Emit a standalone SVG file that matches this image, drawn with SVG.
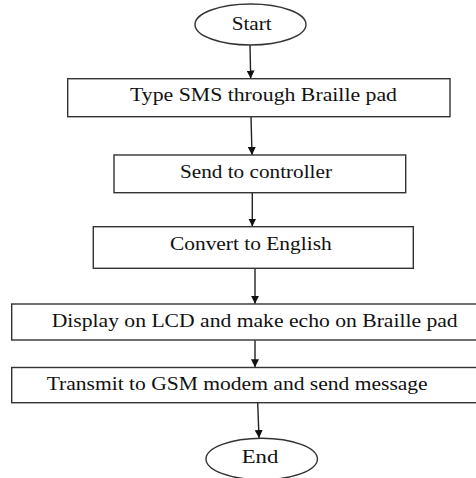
<svg xmlns="http://www.w3.org/2000/svg" width="476" height="478" viewBox="0 0 476 478">
<defs>
<style>
.n{fill:#fff;stroke:#333;stroke-width:1.4}
.t{font-family:'Liberation Serif','DejaVu Serif',serif;font-size:19px;fill:#111}
.c{stroke:#222;stroke-width:1.4;fill:none;marker-end:url(#ah)}
</style>
<marker id="ah" viewBox="0 0 10 10" refX="10" refY="5" markerWidth="8" markerHeight="8" markerUnits="userSpaceOnUse" orient="auto">
<path d="M0,0 L10,5 L0,10 z" fill="#111"/>
</marker>
</defs>
<rect width="476" height="478" fill="#fff"/>
<g id="connectors">
<line class="c" x1="250" y1="45" x2="250.7" y2="78.5"/>
<line class="c" x1="251" y1="117" x2="252" y2="155"/>
<line class="c" x1="252.3" y1="193" x2="252.3" y2="226.5"/>
<line class="c" x1="255" y1="268.5" x2="255" y2="303.8"/>
<line class="c" x1="255" y1="340.3" x2="255" y2="367.3"/>
<line class="c" x1="257.7" y1="403" x2="259" y2="438"/>
</g>
<g id="start">
<ellipse class="n" cx="250.5" cy="24.5" rx="55.5" ry="20.5"/>
<text class="t" font-family="Liberation Serif, serif" x="231.7" y="30" textLength="40" lengthAdjust="spacingAndGlyphs">Start</text>
</g>
<g id="type-sms">
<rect class="n" x="67.7" y="78.7" width="382.3" height="38"/>
<text class="t" font-family="Liberation Serif, serif" x="130" y="100.5" textLength="267" lengthAdjust="spacingAndGlyphs">Type SMS through Braille pad</text>
</g>
<g id="send-controller">
<rect class="n" x="114" y="155" width="291.7" height="37.7"/>
<text class="t" font-family="Liberation Serif, serif" x="180" y="177.5" textLength="152" lengthAdjust="spacingAndGlyphs">Send to controller</text>
</g>
<g id="convert">
<rect class="n" x="93.3" y="226.7" width="320" height="41.6"/>
<text class="t" font-family="Liberation Serif, serif" x="170" y="250" textLength="161.7" lengthAdjust="spacingAndGlyphs">Convert to English</text>
</g>
<g id="display">
<rect class="n" x="11.7" y="304" width="470" height="36"/>
<text class="t" font-family="Liberation Serif, serif" x="51.7" y="326.5" textLength="406" lengthAdjust="spacingAndGlyphs">Display on LCD and make echo on Braille pad</text>
</g>
<g id="transmit">
<rect class="n" x="11.7" y="367.5" width="470" height="35.2"/>
<text class="t" font-family="Liberation Serif, serif" x="46.7" y="389.5" textLength="381" lengthAdjust="spacingAndGlyphs">Transmit to GSM modem and send message</text>
</g>
<g id="end">
<ellipse class="n" cx="261.7" cy="459" rx="55.7" ry="20.7"/>
<text class="t" font-family="Liberation Serif, serif" x="241.7" y="463.3" textLength="36.6" lengthAdjust="spacingAndGlyphs">End</text>
</g>
</svg>
